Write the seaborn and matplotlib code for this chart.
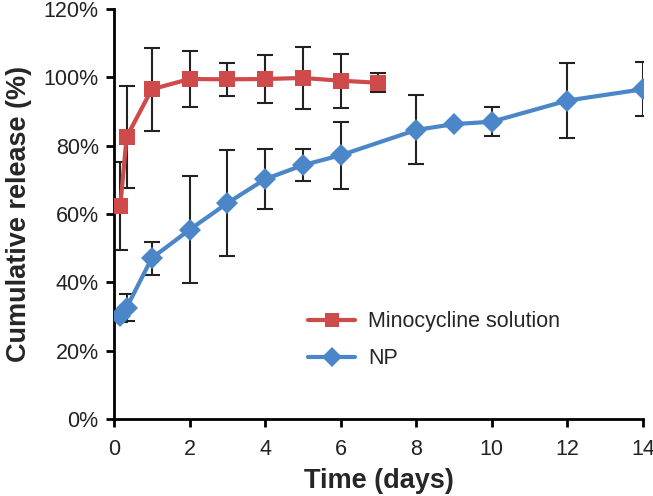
import numpy as np
import pandas as pd
import matplotlib
matplotlib.use("Agg")
import matplotlib.pyplot as plt
import seaborn as sns
from matplotlib.ticker import PercentFormatter

# Minocycline solution
mino_days = [0.167, 0.333, 1, 2, 3, 4, 5, 6, 7]
mino_release = [62.4, 82.5, 96.5, 99.5, 99.4, 99.5, 99.8, 99.0, 98.4]
mino_err = [12.8, 15.0, 12.2, 8.1, 4.8, 7.1, 9.0, 7.9, 2.8]

# NP
np_days = [0.167, 0.333, 1, 2, 3, 4, 5, 6, 8, 9, 10, 12, 14]
np_release = [30.1, 32.6, 47.1, 55.4, 63.2, 70.2, 74.3, 77.2, 84.6, 86.3, 87.0, 93.2, 96.5]
np_err = [1.8, 4.0, 4.8, 15.7, 15.4, 8.8, 4.7, 9.8, 10.1, 0.0, 4.3, 11.1, 7.9]

x_ticks = [0, 2, 4, 6, 8, 10, 12, 14]
y_ticks = [0, 20, 40, 60, 80, 100, 120]

RED = "#CF4A4B"
BLUE = "#4A86C8"

sns.set_style("ticks")
plt.rcParams["font.family"] = ["Liberation Sans", "DejaVu Sans"]

df = pd.concat([
    pd.DataFrame({"day": mino_days, "release": mino_release, "err": mino_err,
                  "group": "Minocycline solution"}),
    pd.DataFrame({"day": np_days, "release": np_release, "err": np_err, "group": "NP"}),
])

fig = plt.figure(figsize=(6.53, 4.96), dpi=100)
ax = fig.add_axes([0.1746, 0.155, 0.81, 0.827])

# error bars first so the markers sit on top
for name, sub in df.groupby("group"):
    ax.errorbar(sub["day"], sub["release"], yerr=sub["err"], fmt="none",
                ecolor="#222222", elinewidth=1.5, capsize=6, capthick=1.5, zorder=1)

sns.lineplot(data=df, x="day", y="release", hue="group", style="group",
             palette={"Minocycline solution": RED, "NP": BLUE},
             markers={"Minocycline solution": "s", "NP": "D"},
             dashes=False, linewidth=3, markersize=11, markeredgewidth=0,
             ax=ax, zorder=3)

ax.set_xlim(0, 14)
ax.set_ylim(0, 120)
ax.set_xticks(x_ticks)
ax.set_yticks(y_ticks)
ax.yaxis.set_major_formatter(PercentFormatter(decimals=0))
ax.tick_params(axis="both", labelsize=15.5, width=2, length=6, color="black",
               labelcolor="#222222")
ax.tick_params(axis="x", pad=8)
ax.tick_params(axis="y", pad=5)
for side in ["left", "bottom"]:
    ax.spines[side].set_linewidth(2)
    ax.spines[side].set_color("black")
sns.despine(ax=ax)

ax.set_xlabel("Time (days)", fontsize=19.5, fontweight="bold", labelpad=6)
ax.set_ylabel("Cumulative release (%)", fontsize=19.5, fontweight="bold", labelpad=8)

leg = ax.legend(loc="upper left", bbox_to_anchor=(0.33, 0.31), frameon=False,
                fontsize=15.5, handlelength=2.2, handletextpad=0.6, labelspacing=0.75)
for h in leg.legend_handles:
    h.set_markersize(10)
    h.set_linewidth(3)

fig.savefig("out.png", dpi=100)
